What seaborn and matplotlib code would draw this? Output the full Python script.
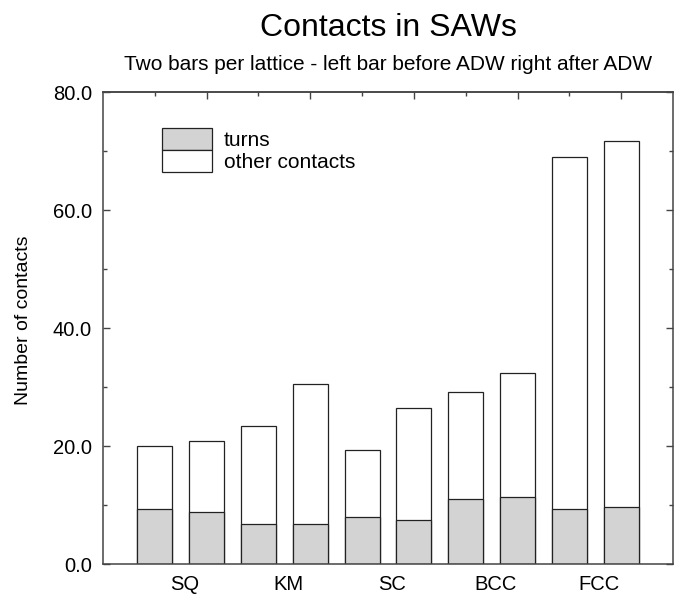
import matplotlib
matplotlib.use("Agg")
import matplotlib.pyplot as plt
import matplotlib.patches as mpatches
import numpy as np
import pandas as pd
import seaborn as sns

# Average contact counts for self-avoiding walks on five lattices,
# measured before and after ADW.
lattices = ["SQ", "KM", "SC", "BCC", "FCC"]
total_before = [20.0, 23.4, 19.3, 29.2, 69.0]
total_after = [20.9, 30.5, 26.4, 32.3, 71.7]
turns_before = [9.3, 6.7, 7.9, 11.0, 9.3]
turns_after = [8.8, 6.8, 7.5, 11.3, 9.6]
y_ticks = [0, 20, 40, 60, 80]

sns.set_style("white")
plt.rcParams["font.family"] = ["Liberation Sans", "DejaVu Sans"]
plt.rcParams["text.color"] = "black"
plt.rcParams["axes.labelcolor"] = "black"
plt.rcParams["xtick.labelcolor"] = "black"
plt.rcParams["ytick.labelcolor"] = "black"

# Long table: one row per bar, two bars per lattice (before, after)
rows = []
for i, lat in enumerate(lattices):
    rows.append({"bar": f"{lat} before", "total": total_before[i], "turns": turns_before[i]})
    rows.append({"bar": f"{lat} after", "total": total_after[i], "turns": turns_after[i]})
df = pd.DataFrame(rows)
order = list(df["bar"])

GRAY = "#d3d3d3"
EDGE = "#222222"
AXC = "#444444"

fig = plt.figure(figsize=(6.75, 5.96), dpi=100)
ax = fig.add_axes([103 / 675, 1 - 564 / 596, 570 / 675, 472 / 596])

# Full-height bar (other contacts on top), then the turns part over its base
sns.barplot(data=df, x="bar", y="total", order=order, color="white", saturation=1,
            edgecolor=EDGE, linewidth=0.9, width=0.675, ax=ax, errorbar=None)
sns.barplot(data=df, x="bar", y="turns", order=order, color=GRAY, saturation=1,
            edgecolor=EDGE, linewidth=0.9, width=0.675, ax=ax, errorbar=None)

ax.set_xlim(-1.0, 10.0)
ax.set_ylim(0, 80)
ax.set_yticks(y_ticks)
ax.set_yticklabels([f"{v:.1f}" for v in y_ticks])
ax.set_yticks([10, 30, 50, 70], minor=True)

group_centers = np.arange(len(lattices)) * 2 + 0.5 + 0.07
ax.set_xticks(group_centers)
ax.set_xticklabels(lattices)
ax.set_xlabel("")
ax.set_ylabel("Number of contacts", fontsize=14, color="black")
ax.yaxis.set_label_coords(-0.124, 0.517)

ax.tick_params(axis="x", length=0, labelsize=14.5, pad=8, labelcolor="black")
ax.tick_params(axis="y", which="both", direction="in", left=True, right=True,
               color=AXC, labelsize=14.5, pad=8, labelcolor="black")
ax.tick_params(axis="y", which="major", length=5, width=1)
ax.tick_params(axis="y", which="minor", length=3, width=1)

for side in ["left", "right", "top", "bottom"]:
    ax.spines[side].set_visible(True)
    ax.spines[side].set_color(AXC)
    ax.spines[side].set_linewidth(1.1)

# Tick marks along the top edge at every bar
top = ax.secondary_xaxis("top")
bar_pos = np.arange(len(order))
top.set_xticks(bar_pos[1::2])
top.set_xticks(bar_pos[0::2], minor=True)
top.tick_params(which="both", direction="in", labeltop=False, color=AXC, width=1)
top.tick_params(which="major", length=5)
top.tick_params(which="minor", length=3)
top.spines["top"].set_color(AXC)
top.spines["top"].set_linewidth(1.1)

handles = [mpatches.Patch(facecolor=GRAY, edgecolor=EDGE, linewidth=0.9),
           mpatches.Patch(facecolor="white", edgecolor=EDGE, linewidth=0.9)]
leg = ax.legend(handles, ["turns", "other contacts"], loc="upper left",
                bbox_to_anchor=(162 / 675, 1 - 128 / 596), bbox_transform=fig.transFigure,
                frameon=False, fontsize=15, borderpad=0, borderaxespad=0,
                handlelength=2.4, handleheight=1.25, labelspacing=0, handletextpad=0.58)
for t in leg.get_texts():
    t.set_color("black")

fig.text(388 / 675, 1 - 28 / 596, "Contacts in SAWs", ha="center", va="center",
         fontsize=23, color="black")
fig.text(388 / 675, 1 - 65 / 596, "Two bars per lattice - left bar before ADW right after ADW",
         ha="center", va="center", fontsize=15, color="black")

fig.savefig("out.png", dpi=100)
